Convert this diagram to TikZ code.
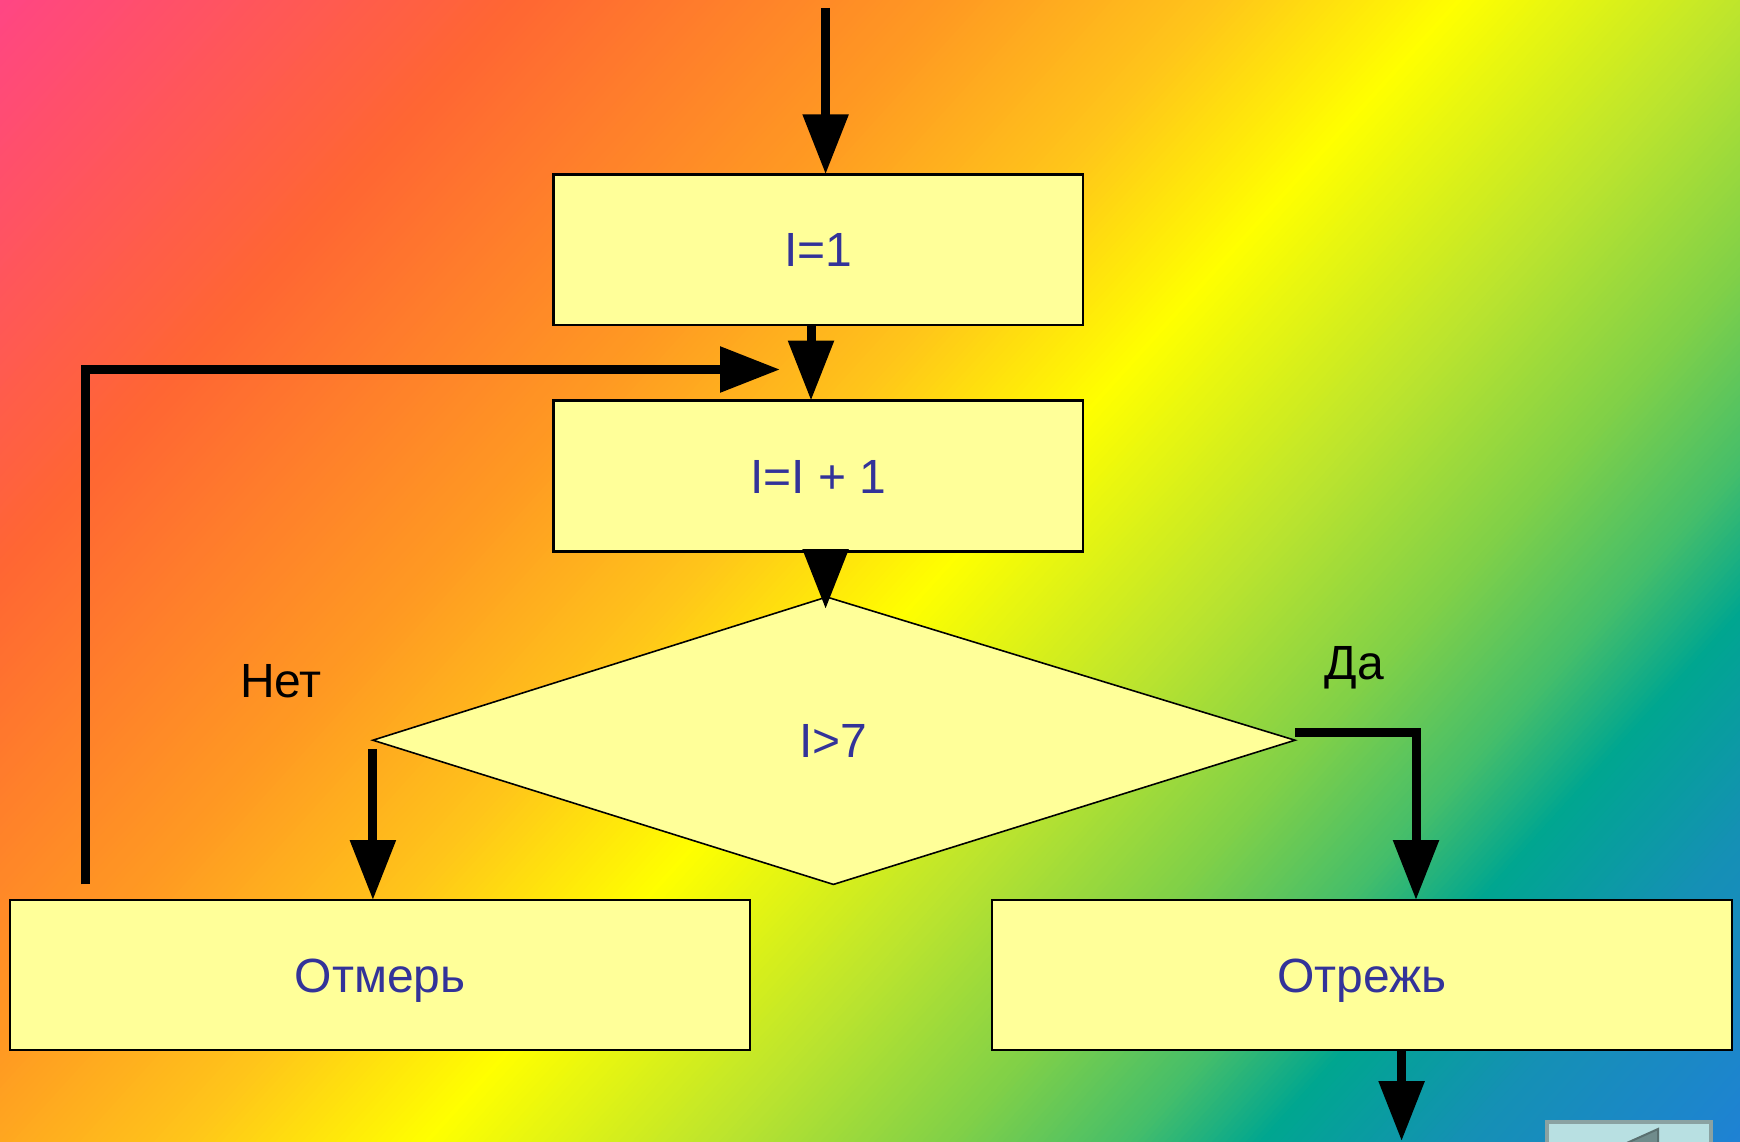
\documentclass[tikz,border=0pt]{standalone}
\usepackage{fontspec}
\setmainfont{Liberation Sans}
\usetikzlibrary{arrows.meta}
\definecolor{txtblue}{HTML}{333399}
\definecolor{boxfill}{HTML}{FFFF99}
\definecolor{btnfill}{HTML}{B8E0E2}
\definecolor{btngray}{HTML}{8AA2A2}
\definecolor{btntri}{HTML}{708C8C}
\definecolor{g0}{HTML}{FF4488}
\definecolor{g1}{HTML}{FF6633}
\definecolor{g2}{HTML}{FF9922}
\definecolor{g3}{HTML}{FFC51A}
\definecolor{g4}{HTML}{FFFF00}
\definecolor{g5}{HTML}{BBE42E}
\definecolor{g6}{HTML}{80D048}
\definecolor{g7}{HTML}{45BE6A}
\definecolor{g8}{HTML}{00A690}
\definecolor{g9}{HTML}{1590B5}
\definecolor{g10}{HTML}{2080D8}
\begin{document}
\begin{tikzpicture}[x=1pt,y=-1pt,
  box/.style={draw=black, line width=2.5pt, fill=boxfill, inner sep=0pt, outer sep=0pt,
    text=txtblue, font=\fontsize{48}{58}\selectfont, text height=34.4pt, text depth=0pt},
  smallbox/.style={box, minimum width=529.4pt, minimum height=150.9pt},
  widebox/.style={box, minimum width=740.2pt, minimum height=149.8pt},
  condtext/.style={inner sep=0pt, text=txtblue, font=\fontsize{48}{58}\selectfont, text height=34.4pt, text depth=0pt},
  note/.style={inner sep=0pt, anchor=base, text=black, font=\fontsize{48}{58}\selectfont},
  flow/.style={line width=9pt, -{Triangle[length=60pt,width=44pt]}}]
\useasboundingbox (0,0) rectangle (1740,1141);
% background gradient drawn as overlapping solid stripes
\begin{scope}
  \clip (0,0) rectangle (1740,1141);
  \begin{scope}[transform canvas={rotate=-42.13}]
    \foreach \a/\b/\ca/\cb in {-20/380/g0/g1, 380/700/g1/g2, 700/900/g2/g3, 900/1080/g3/g4,
      1080/1300/g4/g5, 1300/1470/g5/g6, 1470/1600/g6/g7, 1600/1700/g7/g8,
      1700/1850/g8/g9, 1850/2080/g9/g10}{
      \pgfmathtruncatemacro{\N}{(\b-\a)/5}
      \pgfmathsetmacro{\s}{(\b-\a)/\N}
      \foreach \i in {0,...,\N}{
        \pgfmathsetmacro{\t}{100*\i/\N}
        \pgfmathsetmacro{\xx}{\a+\s*\i}
        \fill[color=\cb!\t!\ca] (\xx,-1700) rectangle (\xx+\s+1.5,1700);
      }
    }
  \end{scope}
\end{scope}
% nodes
\node[smallbox] (b1) at (818.4,249.7) {I=1};
\node[smallbox] (b2) at (818.4,476) {I=I + 1};
\node[widebox] (m1) at (380.1,974.9) {Отмерь};
\node[widebox] (m2) at (1362.1,974.9) {Отрежь};
\coordinate (dT) at (826.7,597);
\coordinate (dR) at (1295,740.2);
\coordinate (dB) at (833.4,884.4);
\coordinate (dL) at (372.9,740.2);
\draw[line width=1.6pt, fill=boxfill] (dL) -- (dT) -- (dR) -- (dB) -- cycle;
\node[condtext] (cond) at (833.4,740.5) {I>7};
\node[note] (no) at (281,697) {Нет};
\node[note] (yes) at (1354.5,679) {Да};
% connectors
\coordinate (start) at (825.6,7.8);
\draw[flow] (start) -- (start |- b1.north);
\coordinate (c12) at (811,0);
\draw[flow] (c12 |- b1.south) -- (c12 |- b2.north);
\coordinate (loopS) at (85.4,884.4);
\coordinate (loopT) at (85.4,369.5);
\coordinate (loopE) at (780,369.5);
\draw[flow] (loopS) -- (loopT) -- (loopE);
\coordinate (dTip) at (825.6,609);
\draw[flow] (b2.south -| dTip) -- (dTip);
\coordinate (nL) at (372.9,749);
\draw[flow] (nL) -- (nL |- m1.north);
\coordinate (yS) at (1295,732.4);
\coordinate (yC) at (1416,732.4);
\draw[flow] (yS) -- (yC) -- (yC |- m2.north);
\coordinate (endP) at (1401.6,1141);
\draw[flow] (m2.south -| endP) -- (endP);
% navigation button (partly visible)
\begin{scope}
  \clip (0,0) rectangle (1740,1141);
  \draw[fill=btnfill, draw=btngray, line width=4.5pt] (1547,1122) rectangle (1711,1170);
  \draw[fill=btntri, draw=btntri!80!black, line width=2pt] (1658,1129) -- (1658,1180) -- (1600,1155) -- cycle;
\end{scope}
\end{tikzpicture}
\end{document}
